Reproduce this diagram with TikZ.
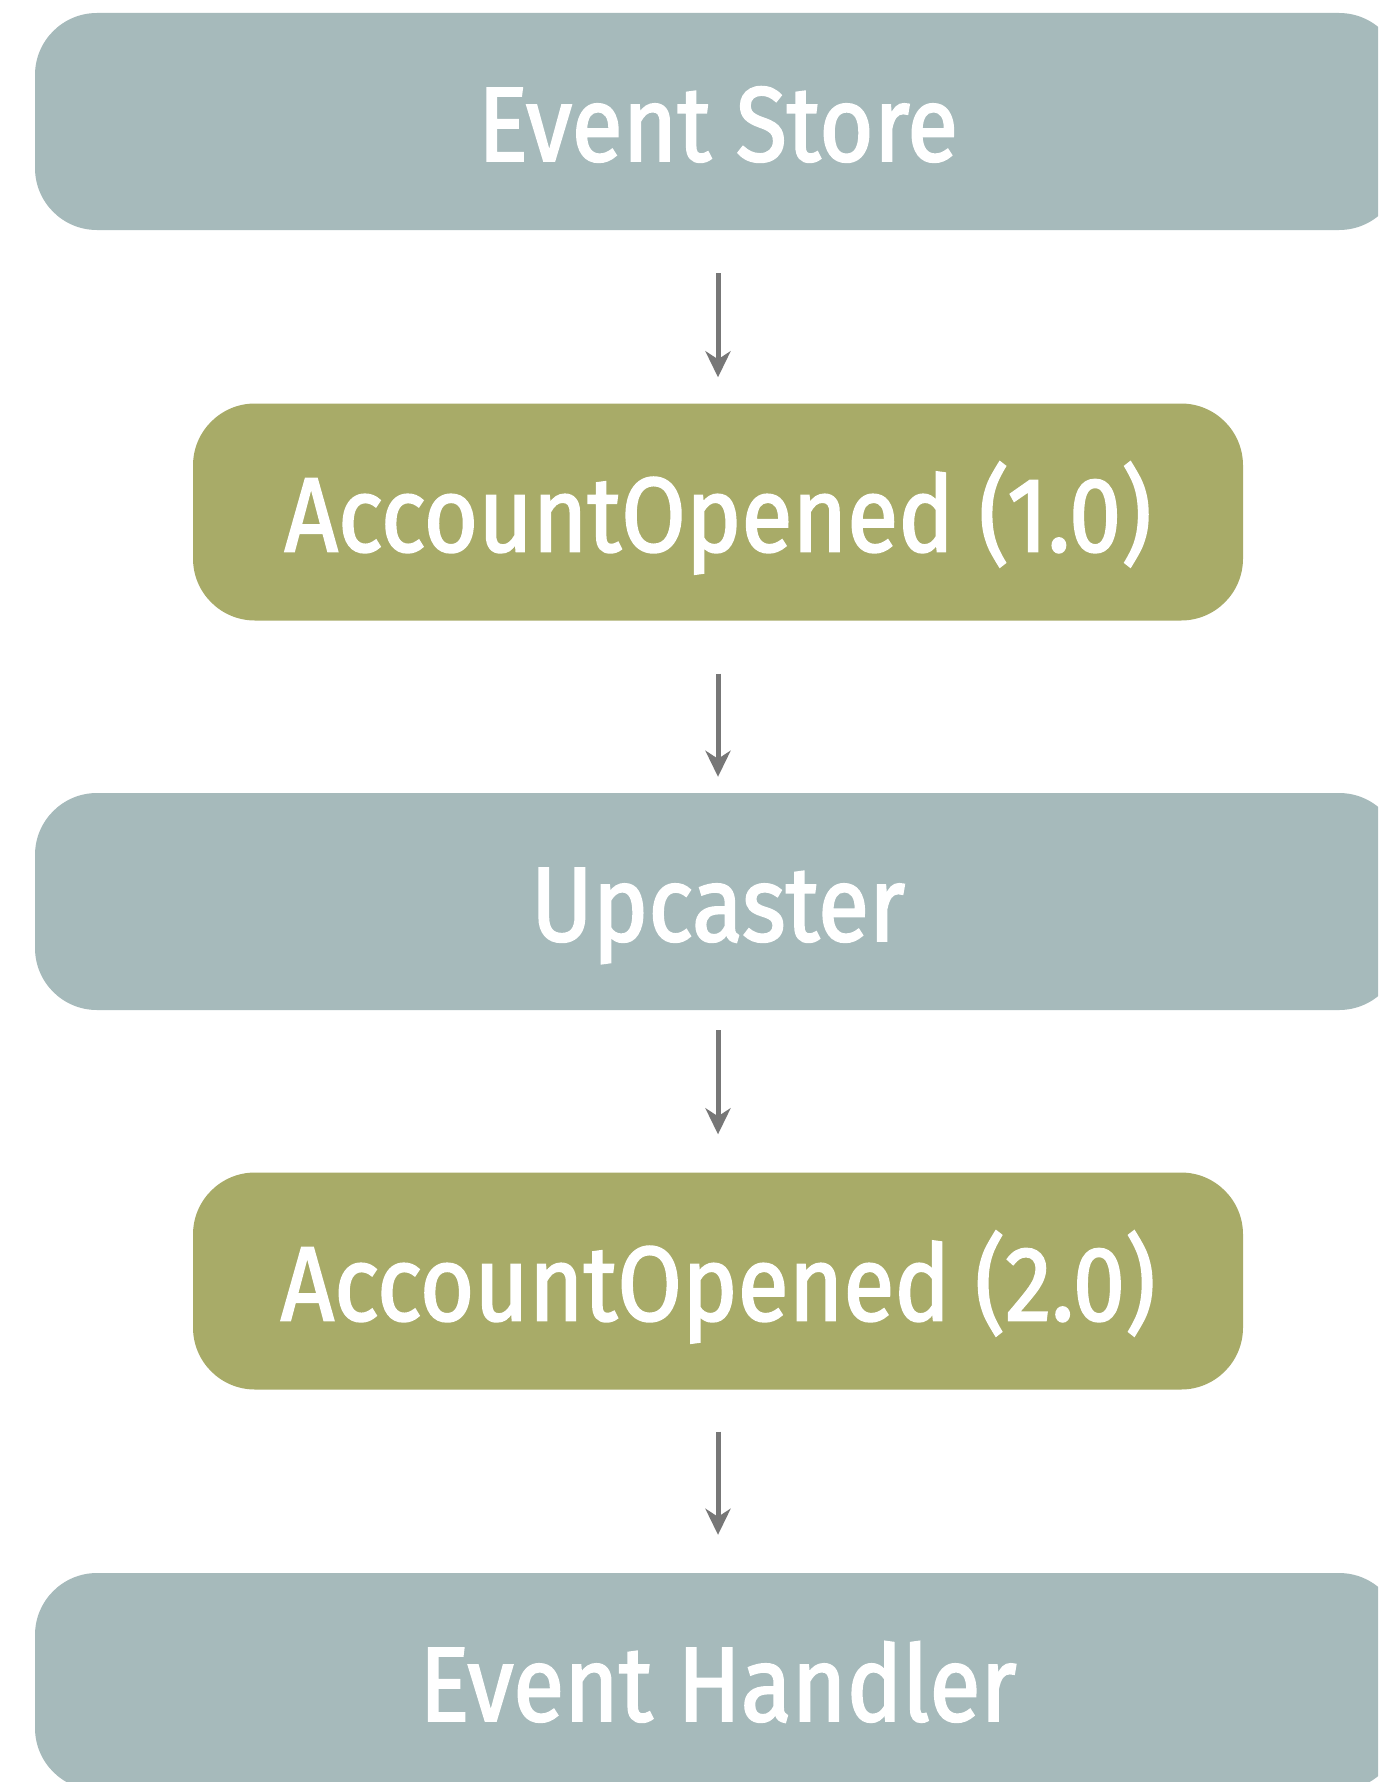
\documentclass[tikz,border=0pt]{standalone}
\usepackage{fontspec}
\setmainfont{Fira Sans}[FakeStretch=0.882, FakeBold=1.8]
\usetikzlibrary{arrows.meta}
\definecolor{slate}{HTML}{A6BABB}
\definecolor{olive}{HTML}{A8AB68}
\definecolor{arrowgray}{HTML}{777777}
\tikzset{
  box/.style={rounded corners=62pt, minimum height=217pt, inner sep=0pt,
    text=white, text height=79pt, text depth=0pt,
    font=\fontsize{106}{110}\selectfont},
  widebox/.style={box, fill=slate, minimum width=1366pt},
  eventbox/.style={box, fill=olive, minimum width=1050pt},
  conn/.style={draw=arrowgray, line width=5pt,
    -{Stealth[length=26pt, width=25pt, inset=8pt, fill=arrowgray]}}
}
\begin{document}
\begin{tikzpicture}[x=1pt, y=-1pt]
  \useasboundingbox (0,0) rectangle (1378,1782);
  \clip (0,0) rectangle (1378,1782);
  \fill[white] (0,0) rectangle (1378,1782);

  \node[widebox]  (store)    at (718,121.5)  {Event Store};
  \node[eventbox] (v1)       at (718,512)    {AccountOpened (1.0)};
  \node[widebox]  (upcaster) at (718,901.5)  {Upcaster};
  \node[eventbox] (v2)       at (718,1281)   {AccountOpened (2.0)};
  \node[widebox]  (handler)  at (718,1681.5) {Event Handler};

  \draw[conn, shorten <=43pt, shorten >=26pt] (store) -- (v1);
  \draw[conn, shorten <=53pt, shorten >=16pt] (v1) -- (upcaster);
  \draw[conn, shorten <=20pt, shorten >=38pt] (upcaster) -- (v2);
  \draw[conn, shorten <=42pt, shorten >=38pt] (v2) -- (handler);
\end{tikzpicture}
\end{document}
